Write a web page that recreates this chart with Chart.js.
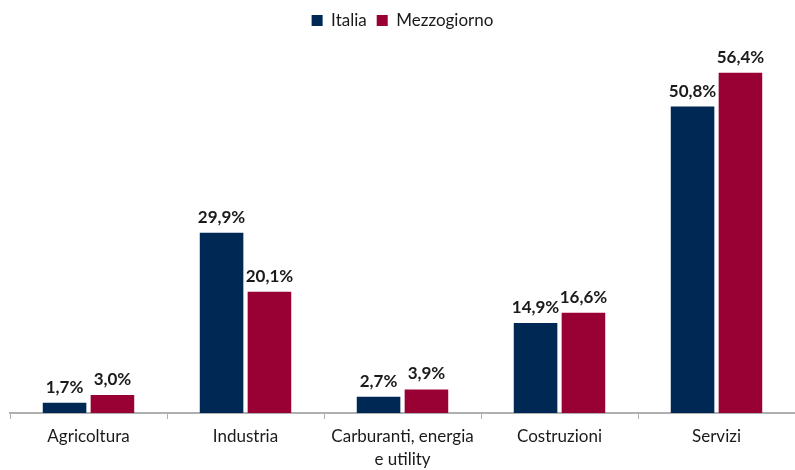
<!DOCTYPE html>
<html>
<head>
<meta charset="utf-8">
<script src="https://cdn.jsdelivr.net/npm/chart.js@4"></script>
<style>
  html, body { margin: 0; padding: 0; background: #fff; }
  #wrap { width: 795px; height: 470px; }
</style>
</head>
<body>
<div id="wrap"><canvas id="chart"></canvas></div>
<script>
// Data
const categories = ['Agricoltura', 'Industria', ['Carburanti, energia', 'e utility'], 'Costruzioni', 'Servizi'];
const italia = [1.7, 29.9, 2.7, 14.9, 50.8];
const mezzogiorno = [3.0, 20.1, 3.9, 16.6, 56.4];

const FONT = 'Lato, "Open Sans", sans-serif';

// draws the value above every bar
const barLabels = {
  id: 'barLabels',
  afterDatasetsDraw(chart) {
    const ctx = chart.ctx;
    ctx.save();
    ctx.font = 'bold 17px ' + FONT;
    ctx.fillStyle = '#1a1a1a';
    ctx.textAlign = 'center';
    ctx.textBaseline = 'bottom';
    chart.data.datasets.forEach((ds, i) => {
      chart.getDatasetMeta(i).data.forEach((bar, j) => {
        const txt = ds.data[j].toFixed(1).replace('.', ',') + '%';
        ctx.fillText(txt, bar.x, bar.y - 7);
      });
    });
    ctx.restore();
  }
};

new Chart(document.getElementById('chart'), {
  type: 'bar',
  data: {
    labels: categories,
    datasets: [
      { label: 'Italia', data: italia, backgroundColor: '#002855' },
      { label: 'Mezzogiorno', data: mezzogiorno, backgroundColor: '#990033' }
    ]
  },
  options: {
    responsive: true,
    maintainAspectRatio: false,
    animation: false,
    categoryPercentage: 0.61,
    barPercentage: 0.91,
    layout: { padding: { left: 10, right: 0, top: 2, bottom: 0 } },
    plugins: {
      legend: {
        position: 'top',
        labels: {
          boxWidth: 11,
          boxHeight: 11,
          padding: 10,
          color: '#1a1a1a',
          font: { family: FONT, size: 17 }
        }
      },
      tooltip: { enabled: false }
    },
    scales: {
      x: {
        afterFit(scale) { scale.height = 57; },
        grid: {
          drawOnChartArea: false,
          color: '#b0b0b0',
          tickLength: 6,
          offset: true
        },
        border: { color: '#b0b0b0', width: 2 },
        ticks: {
          color: '#1a1a1a',
          font: { family: FONT, size: 17, lineHeight: 1.35 },
          maxRotation: 0,
          autoSkip: false,
          padding: 6
        }
      },
      y: {
        display: false,
        min: 0,
        max: 62
      }
    }
  },
  plugins: [barLabels]
});
</script>
</body>
</html>
